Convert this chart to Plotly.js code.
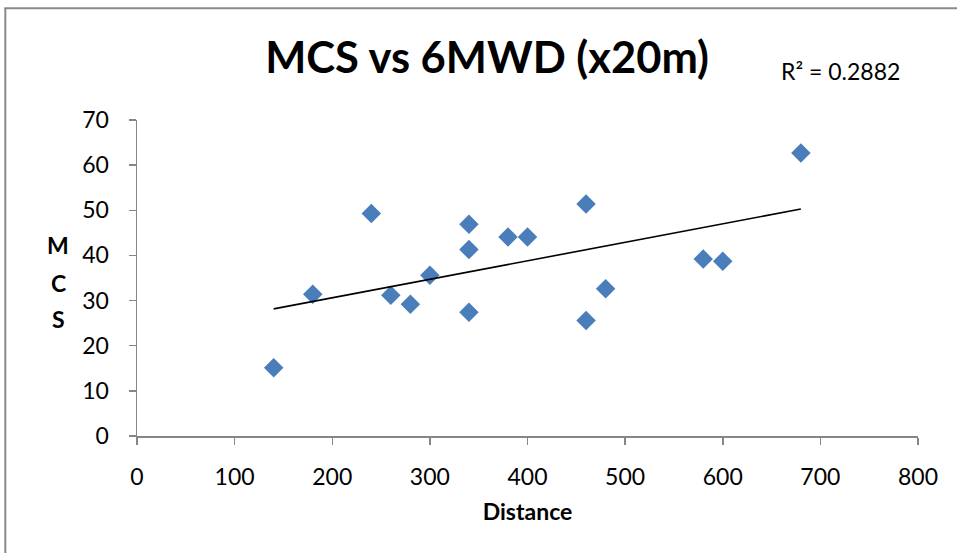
<!DOCTYPE html>
<html>
<head>
<meta charset="utf-8">
<script src="https://cdn.plot.ly/plotly-3.0.1.min.js"></script>
<style>
html, body { margin: 0; padding: 0; background: #fff; overflow: hidden; }
#chart { width: 957px; height: 553px; }
</style>
</head>
<body>
<div id="chart"></div>
<script>
// Data
const distance = [140, 180, 240, 260, 280, 300, 340, 340, 340, 380, 400, 460, 460, 480, 580, 600, 680];
const mcs      = [15.1, 31.4, 49.3, 31.2, 29.2, 35.6, 46.9, 41.3, 27.4, 44.1, 44.1, 51.4, 25.6, 32.6, 39.2, 38.7, 62.7];
const titleText = 'MCS vs 6MWD (x20m)';
const xTitle = 'Distance';
const yTitleLetters = ['M', 'C', 'S'];
const r2Label = 'R² = 0.2882';
const xTicks = [0, 100, 200, 300, 400, 500, 600, 700, 800];
const yTicks = [0, 10, 20, 30, 40, 50, 60, 70];

// Linear least-squares trendline (as in the spreadsheet)
const n = distance.length;
const mx = distance.reduce((a, b) => a + b, 0) / n;
const my = mcs.reduce((a, b) => a + b, 0) / n;
let sxy = 0, sxx = 0;
for (let i = 0; i < n; i++) { sxy += (distance[i] - mx) * (mcs[i] - my); sxx += (distance[i] - mx) ** 2; }
const slope = sxy / sxx, intercept = my - slope * mx;
const tx = [Math.min(...distance), Math.max(...distance)];
const ty = tx.map(x => intercept + slope * x);

const FONT = 'Lato, Carlito, Calibri, "Open Sans", sans-serif';
const axisColor = '#868686';

const traces = [
  {
    x: distance, y: mcs, type: 'scatter', mode: 'markers',
    marker: { symbol: 'diamond', size: 15, color: '#4A7EBB', line: { width: 0 } },
    showlegend: false, hoverinfo: 'x+y'
  },
  {
    x: tx, y: ty, type: 'scatter', mode: 'lines',
    line: { color: '#000000', width: 1.6 },
    showlegend: false, hoverinfo: 'skip'
  }
];

const yPos = [0.604, 0.485, 0.371];
const annotations = yTitleLetters.map((t, i) => ({
  text: '<b>' + t + '</b>', xref: 'paper', yref: 'paper', x: -0.101, y: yPos[i],
  xanchor: 'center', yanchor: 'middle', showarrow: false,
  font: { family: FONT, size: 23, color: '#000' }
}));
annotations.push({
  text: r2Label, xref: 'paper', yref: 'paper', x: 0.9006, y: 1.155,
  xanchor: 'center', yanchor: 'middle', showarrow: false,
  font: { family: FONT, size: 23, color: '#000' }
});

const layout = {
  width: 957, height: 553,
  margin: { l: 137, r: 39, t: 120, b: 117 },
  paper_bgcolor: '#ffffff', plot_bgcolor: '#ffffff',
  title: {
    text: '<b>' + titleText + '</b>',
    font: { family: FONT, size: 43.5, color: '#000' },
    xref: 'container', x: 0.509, xanchor: 'center',
    yref: 'container', y: 0.895, yanchor: 'middle'
  },
  xaxis: {
    range: [0, 800], tickvals: xTicks, ticktext: xTicks.map(String),
    showgrid: false, zeroline: false, showline: true, linecolor: axisColor, linewidth: 1.5,
    ticks: 'outside', ticklen: 7, tickwidth: 1.5, tickcolor: axisColor,
    ticklabelstandoff: 13,
    tickfont: { family: FONT, size: 23, color: '#000' },
    title: { text: '<b>' + xTitle + '</b>', font: { family: FONT, size: 23, color: '#000' }, standoff: 15 },
    fixedrange: true
  },
  yaxis: {
    range: [0, 70], tickvals: yTicks, ticktext: yTicks.map(String),
    showgrid: false, zeroline: false, showline: true, linecolor: axisColor, linewidth: 1.5,
    ticks: 'outside', ticklen: 7, tickwidth: 1.5, tickcolor: axisColor,
    ticklabelstandoff: 15,
    tickfont: { family: FONT, size: 23, color: '#000' },
    fixedrange: true
  },
  annotations: annotations,
  shapes: [
    { type: 'line', xref: 'paper', yref: 'paper', x0: -0.1686, x1: -0.1686, y0: 1.354, y1: -0.45,
      line: { color: '#8A8A8A', width: 2 } },
    { type: 'line', xref: 'paper', yref: 'paper', x0: -0.1699, x1: 1.1, y0: 1.354, y1: 1.354,
      line: { color: '#8A8A8A', width: 2 } }
  ]
};

Plotly.newPlot('chart', traces, layout, { displayModeBar: false, staticPlot: true });
</script>
</body>
</html>
